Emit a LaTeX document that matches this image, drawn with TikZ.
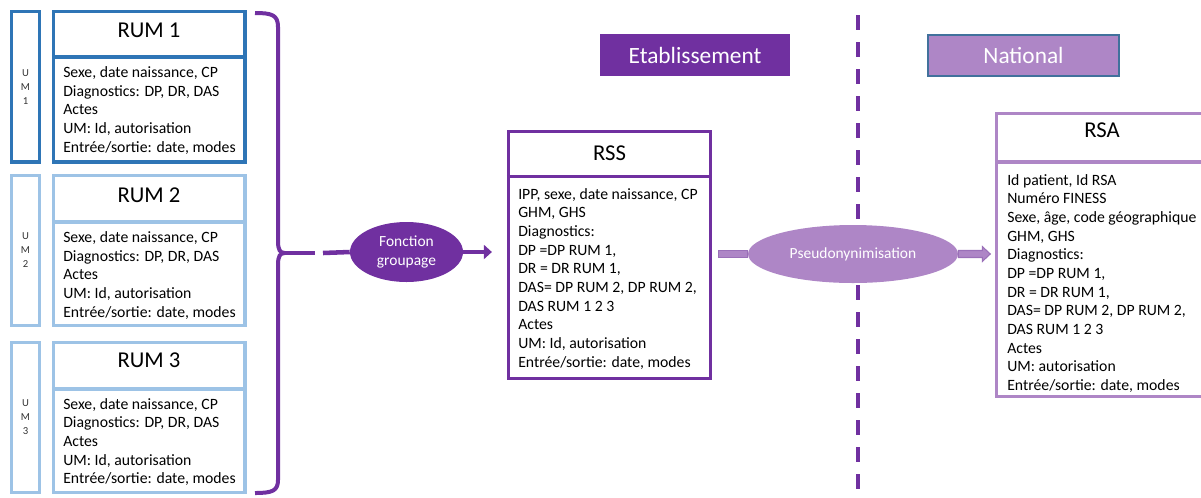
\documentclass[tikz,border=0pt]{standalone}
\usepackage{fontspec}
\setmainfont{Carlito}
\usetikzlibrary{shapes.geometric,arrows.meta,fit,calc}
\definecolor{dblue}{HTML}{2E75B6}
\definecolor{lblue}{HTML}{9DC3E6}
\definecolor{purp}{HTML}{7030A0}
\definecolor{lpurp}{HTML}{AE86C6}
\definecolor{lpurpd}{HTML}{9A70B8}
\definecolor{natborder}{HTML}{41719C}
\newcommand\mylines[1]{\parbox[t]{8cm}{#1}}
\begin{document}
\begin{tikzpicture}[x=0.75pt,y=-0.75pt,
  box/.style={draw, line width=2.4pt, inner sep=0pt},
  divider/.style={line width=2.4pt},
  body/.style={anchor=base west, inner sep=0pt, font=\fontsize{11.8}{14}\selectfont},
  ttl/.style={inner sep=0pt, font=\fontsize{17}{20}\selectfont},
  umlbl/.style={inner sep=0pt, align=center, font=\fontsize{8}{10.5}\selectfont, text=black!80},
  ellp/.style={ellipse, inner sep=0pt, text=white, align=center, font=\fontsize{11.6}{14}\selectfont},
  purpline/.style={draw=purp, line width=3pt},
  blk/.style={fill=lpurp, draw=lpurpd, line width=0.8pt},
  hdr/.style={inner sep=0pt, text=white, font=\fontsize{17.5}{20}\selectfont}
]
\useasboundingbox (0,0) rectangle (1201,497);
\clip (0,0) rectangle (1201,497);

% ---------- UM side boxes ----------
\node[box, draw=dblue, fit={(11.5,11.5) (39.5,162)}] (um1) {};
\node[umlbl] at (um1.center) {U\\M\\1};
\node[box, draw=lblue, fit={(11.5,175.5) (39.5,325.5)}] (um2) {};
\node[umlbl] at (um2.center) {U\\M\\2};
\node[box, draw=lblue, fit={(11.5,342.5) (39.5,492.5)}] (um3) {};
\node[umlbl] at (um3.center) {U\\M\\3};

% ---------- RUM boxes ----------
\node[box, draw=dblue, fit={(53.5,11.5) (245,162)}] (rum1) {};
\draw[divider, dblue] (rum1.west |- 0,57) -- (rum1.east |- 0,57);
\node[ttl] (rum1t) at (149,30) {RUM 1};
\node[body] (rum1b) at (63,77.5) {\mylines{Sexe, date naissance, CP\\Diagnostics: DP, DR, DAS\\Actes\\UM: Id, autorisation\\Entrée/sortie: date, modes}};

\node[box, draw=lblue, fit={(53.5,175.5) (245,325.5)}] (rum2) {};
\draw[divider, lblue] (rum2.west |- 0,222) -- (rum2.east |- 0,222);
\node[ttl] (rum2t) at (149,195) {RUM 2};
\node[body] (rum2b) at (63,242.5) {\mylines{Sexe, date naissance, CP\\Diagnostics: DP, DR, DAS\\Actes\\UM: Id, autorisation\\Entrée/sortie: date, modes}};

\node[box, draw=lblue, fit={(53.5,342.5) (245,492.5)}] (rum3) {};
\draw[divider, lblue] (rum3.west |- 0,389) -- (rum3.east |- 0,389);
\node[ttl] (rum3t) at (149,360) {RUM 3};
\node[body] (rum3b) at (63,409) {\mylines{Sexe, date naissance, CP\\Diagnostics: DP, DR, DAS\\Actes\\UM: Id, autorisation\\Entrée/sortie: date, modes}};

% ---------- brace ----------
\coordinate (bt) at (285,253);
\coordinate (g1) at (315,253);
\coordinate (g2) at (323,253);
\draw[purpline] (255,13) .. controls (272,13) and (278,15) .. (278,27) -- (278,241)
   .. controls (278,250) and (280,253) .. (bt)
   .. controls (280,253) and (278,256) .. (278,265) -- (278,480)
   .. controls (278,491) and (272,493) .. (255,493);
\draw[purpline] (bt) -- (g1);

% ---------- headers ----------
\node[hdr, fill=purp, minimum width=142.5pt, minimum height=31.5pt] (etab) at (695,55) {Etablissement};
\node[hdr, fill=lpurp, draw=natborder, line width=0.8pt, minimum width=143.25pt, minimum height=30.75pt] (nat) at (1023.5,55.5) {National};

% ---------- dashed separator ----------
\coordinate (d1) at (858,15);
\coordinate (d2) at (858,492);
\draw[draw=purp, line width=3pt, dash pattern=on 11.25pt off 9pt] (d1) -- (d2);

% ---------- Fonction groupage ----------
\node[ellp, fill=purp, minimum width=84.75pt, minimum height=45pt] (fg) at (406.5,252) {Fonction\\groupage};

% ---------- RSS ----------
\node[box, draw=purp, fit={(508.5,131.5) (710.5,378.5)}] (rss) {};
\draw[divider, purp] (rss.west |- 0,176.5) -- (rss.east |- 0,176.5);
\node[ttl] (rsst) at (609.5,153) {RSS};
\node[body] (rssb) at (518,199) {\mylines{IPP, sexe, date naissance, CP\\GHM, GHS\\Diagnostics:\\DP =DP RUM 1,\\DR = DR RUM 1,\\DAS= DP RUM 2, DP RUM 2,\\DAS RUM 1 2 3\\Actes\\UM: Id, autorisation\\Entrée/sortie: date, modes}};

\draw[purpline, line width=3.4pt] (g2) -- (fg.west);
\draw[purpline, line width=3.4pt, -{Triangle[length=6pt,width=10.5pt]}] (fg.east) -- ($(rss.west |- fg.east)+(-15,0)$);

% ---------- Pseudonymisation ----------
\node[ellp, fill=lpurp, minimum width=157.5pt, minimum height=43.5pt] (ps) at (853,254) {Pseudonynimisation};
\filldraw[blk] ($(rss.east |- ps.west)+(6,-3.5)$) rectangle ($(ps.west)+(0,3.5)$);

% ---------- RSA ----------
\node[box, draw=lpurp, fit={(996.5,113.5) (1209,396.5)}] (rsa) {};
\draw[divider, lpurp] (rsa.west |- 0,162) -- (rsa.east |- 0,162);
\node[ttl] (rsat) at (1102,130) {RSA};
\node[body] (rsab) at (1007,185) {\mylines{Id patient, Id RSA\\Numéro FINESS\\Sexe, âge, code géographique\\GHM, GHS\\Diagnostics:\\DP =DP RUM 1,\\DR = DR RUM 1,\\DAS= DP RUM 2, DP RUM 2,\\DAS RUM 1 2 3\\Actes\\UM: autorisation\\Entrée/sortie: date, modes}};

\filldraw[blk] ($(ps.east)+(0,-3.5)$) -- ++(24,0) -- ++(0,-4) -- ++(8,7.5) -- ++(-8,7.5) -- ++(0,-4) -- ++(-24,0) -- cycle;
\end{tikzpicture}
\end{document}
